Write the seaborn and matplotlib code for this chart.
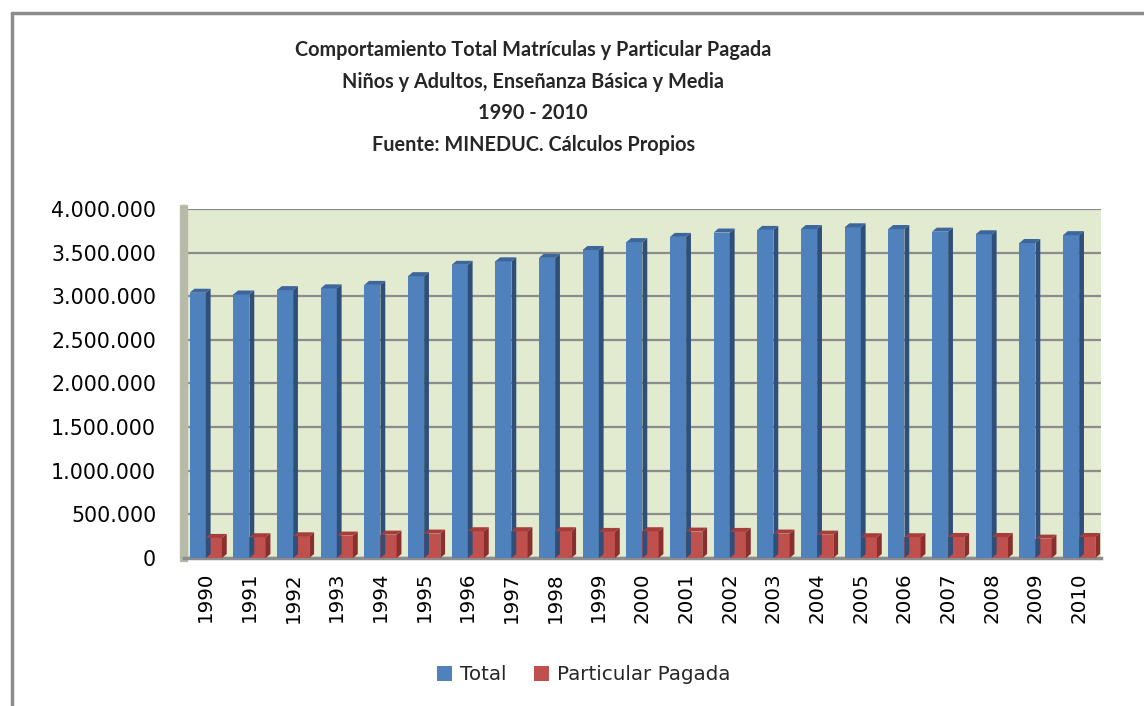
import pandas as pd
import numpy as np
import matplotlib.pyplot as plt
import seaborn as sns
from matplotlib.patches import Polygon
from matplotlib.ticker import FuncFormatter

# values (matriculas)
years = ['1990', '1991', '1992', '1993', '1994', '1995', '1996', '1997', '1998', '1999', '2000',
         '2001', '2002', '2003', '2004', '2005', '2006', '2007', '2008', '2009', '2010']
total = [3040000, 3020000, 3070000, 3090000, 3130000, 3230000, 3360000, 3400000, 3440000, 3530000, 3620000,
         3680000, 3730000, 3760000, 3770000, 3790000, 3770000, 3740000, 3710000, 3610000, 3700000]
particular = [230000, 238000, 249000, 257000, 268000, 280000, 307000, 307000, 307000, 299000, 307000,
              303000, 299000, 280000, 268000, 238000, 238000, 241000, 241000, 222000, 241000]
series = ['Total', 'Particular Pagada']
colors = ['#4F81BD', '#C0504D']
side_colors = ['#2F4E78', '#8A2F2D']
top_colors = ['#3D679C', '#A53E3B']

df = pd.DataFrame({'Año': years * 2,
                   'Serie': [series[0]] * len(years) + [series[1]] * len(years),
                   'Matrícula': total + particular})

sns.set_style('white')
plt.rcParams['font.family'] = ['DejaVu Sans']

fig = plt.figure(figsize=(11.44, 7.06), dpi=100)
ax = fig.add_axes([0.1608, 0.2096, 0.8016, 0.4944])
ax.set_facecolor('#E2EACF')

sns.barplot(data=df, x='Año', y='Matrícula', hue='Serie', palette=colors,
            width=0.74, saturation=1, ax=ax, legend=True, zorder=3,
            linewidth=0, edgecolor='none')

# fake 3D: side and top faces from each bar's geometry
dx = 0.11
dy = 46000
for k, cont in enumerate(ax.containers):
    for r in cont:
        x0, w, h = r.get_x(), r.get_width(), r.get_height()
        side = Polygon([(x0 + w, 0), (x0 + w + dx, dy), (x0 + w + dx, h + dy), (x0 + w, h)],
                       closed=True, fc=side_colors[k], ec='none', zorder=3)
        top = Polygon([(x0, h), (x0 + dx, h + dy), (x0 + w + dx, h + dy), (x0 + w, h)],
                      closed=True, fc=top_colors[k], ec='none', zorder=3)
        ax.add_patch(side)
        ax.add_patch(top)

ax.set_ylim(0, 4000000)
ax.set_xlim(-0.5, len(years) - 0.5)
ax.set_yticks(np.arange(0, 4000001, 500000))
ax.yaxis.set_major_formatter(FuncFormatter(lambda v, p: '0' if v == 0 else f'{int(v):,}'.replace(',', '.')))
ax.grid(axis='y', color='#8C8C8C', linewidth=1.6, zorder=0)
ax.set_axisbelow(True)
ax.tick_params(axis='y', length=0, labelsize=14.8, pad=20, labelcolor='#000000')
ax.tick_params(axis='x', length=0, labelsize=14.3, rotation=90, pad=10, labelcolor='#000000')
ax.set_xlabel('')
ax.set_ylabel('')
for s in ['top', 'right']:
    ax.spines[s].set_visible(False)
ax.spines['left'].set_color('#B8BAA8')
ax.spines['left'].set_linewidth(6)
ax.spines['bottom'].set_color('#8C8C8C')
ax.spines['bottom'].set_linewidth(2.5)

handles, labels = ax.get_legend_handles_labels()
ax.legend_.remove()
fig.legend(handles, labels, loc='center', bbox_to_anchor=(0.51, 0.044), ncol=2, frameon=False,
           fontsize=14.3, handlelength=0.75, handleheight=0.75, handletextpad=0.4, columnspacing=1.4)

titles = ['Comportamiento Total Matrículas y Particular Pagada',
          'Niños y Adultos, Enseñanza Básica y Media',
          '1990 - 2010',
          'Fuente: MINEDUC. Cálculos Propios']
for t, yp in zip(titles, [50, 82, 113, 145]):
    fig.text(0.466, 1 - yp / 706, t, ha='center', va='center', fontsize=14.3,
             fontweight='bold', family='Lato')

# chart frame (left and top edges visible in the reference)
fig.add_artist(plt.Line2D([12 / 1144, 12 / 1144], [0, 1 - 13 / 706], color='#8C8C8C', lw=2.5))
fig.add_artist(plt.Line2D([12 / 1144, 1], [1 - 13 / 706, 1 - 13 / 706], color='#8C8C8C', lw=2.5))

fig.savefig('out.png', dpi=100)
